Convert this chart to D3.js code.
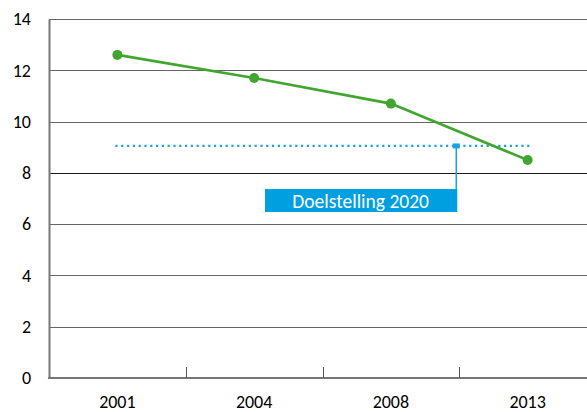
<!DOCTYPE html>
<html>
<head>
<meta charset="utf-8">
<script src="https://cdn.jsdelivr.net/npm/d3@7"></script>
<style>
  html, body { margin: 0; padding: 0; background: #fff; }
  svg { display: block; }
  text { font-family: Carlito, Calibri, Lato, "Open Sans", sans-serif; }
</style>
</head>
<body>
<svg id="chart" width="587" height="412"></svg>
<script>
// Series values per survey year
const years = ["2001", "2004", "2008", "2013"];
const values = [12.6, 11.7, 10.7, 8.5];
// Target for 2020
const targetLabel = "Doelstelling 2020";
const targetValue = 9.05;
const yTicks = [0, 2, 4, 6, 8, 10, 12, 14];

const svg = d3.select("#chart");
const margin = { left: 49, top: 19, bottom: 34 };
const plotRight = 596;
const height = 412;

const x = d3.scaleBand().domain(years).range([margin.left, plotRight]);
const y = d3.scaleLinear().domain([0, 14]).range([height - margin.bottom, margin.top]);

// Horizontal gridlines
svg.append("g")
  .selectAll("line")
  .data(yTicks.filter(d => d > 0))
  .join("line")
  .attr("x1", margin.left).attr("x2", plotRight)
  .attr("y1", d => Math.round(y(d)) + 0.5).attr("y2", d => Math.round(y(d)) + 0.5)
  .attr("stroke", d => d === 8 ? "#1a1a1a" : "#666")
  .attr("stroke-width", 1);

// Y axis
const yAxis = svg.append("g")
  .attr("transform", `translate(${margin.left},0)`)
  .call(d3.axisLeft(y).tickValues(yTicks).tickSize(0).tickPadding(18));
yAxis.select(".domain").attr("stroke", "#777").attr("stroke-width", 2);
yAxis.selectAll("text").attr("font-size", 18).attr("fill", "#000");

// X axis with boundary ticks between categories
const xAxisY = y(0);
svg.append("line")
  .attr("x1", margin.left - 1).attr("x2", plotRight)
  .attr("y1", xAxisY).attr("y2", xAxisY)
  .attr("stroke", "#777").attr("stroke-width", 2);
svg.append("g")
  .selectAll("line")
  .data(years.slice(1))
  .join("line")
  .attr("x1", d => Math.round(x(d)) + 0.5).attr("x2", d => Math.round(x(d)) + 0.5)
  .attr("y1", xAxisY - 11).attr("y2", xAxisY)
  .attr("stroke", "#555").attr("stroke-width", 1);
svg.append("g")
  .selectAll("text")
  .data(years)
  .join("text")
  .attr("x", d => x(d) + x.bandwidth() / 2)
  .attr("y", xAxisY + 30)
  .attr("text-anchor", "middle")
  .attr("font-size", 18)
  .attr("fill", "#000")
  .text(d => d);

// Target line (dotted)
const cx = d => x(d) + x.bandwidth() / 2;
const ty = y(targetValue);
svg.append("line")
  .attr("x1", cx(years[0]) - 2).attr("x2", cx(years[years.length - 1]) + 3)
  .attr("y1", ty).attr("y2", ty)
  .attr("stroke", "#1aa3e0").attr("stroke-width", 2.2)
  .attr("stroke-dasharray", "2.2 3.6");

// Callout label for the target
const calloutX = x(years[3]) - 3;
svg.append("line")
  .attr("x1", calloutX).attr("x2", calloutX)
  .attr("y1", ty).attr("y2", 212)
  .attr("stroke", "#1aa3e0").attr("stroke-width", 1.5);
svg.append("rect")
  .attr("x", calloutX - 3.5).attr("y", ty - 2.5)
  .attr("width", 7).attr("height", 5)
  .attr("fill", "#1aa3e0");
svg.append("rect")
  .attr("x", 265).attr("y", 189)
  .attr("width", calloutX - 265 + 1).attr("height", 23)
  .attr("fill", "#009fe0");
svg.append("text")
  .attr("x", (265 + calloutX) / 2).attr("y", 208)
  .attr("text-anchor", "middle")
  .attr("font-size", 19.5)
  .attr("fill", "#fff")
  .text(targetLabel);

// Series line and markers
const data = years.map((d, i) => ({ year: d, value: values[i] }));
svg.append("path")
  .datum(data)
  .attr("fill", "none")
  .attr("stroke", "#41a62f")
  .attr("stroke-width", 2.6)
  .attr("d", d3.line().x(d => cx(d.year)).y(d => y(d.value)));
svg.append("g")
  .selectAll("circle")
  .data(data)
  .join("circle")
  .attr("cx", d => cx(d.year))
  .attr("cy", d => y(d.value))
  .attr("r", 5)
  .attr("fill", "#41a62f");
</script>
</body>
</html>
